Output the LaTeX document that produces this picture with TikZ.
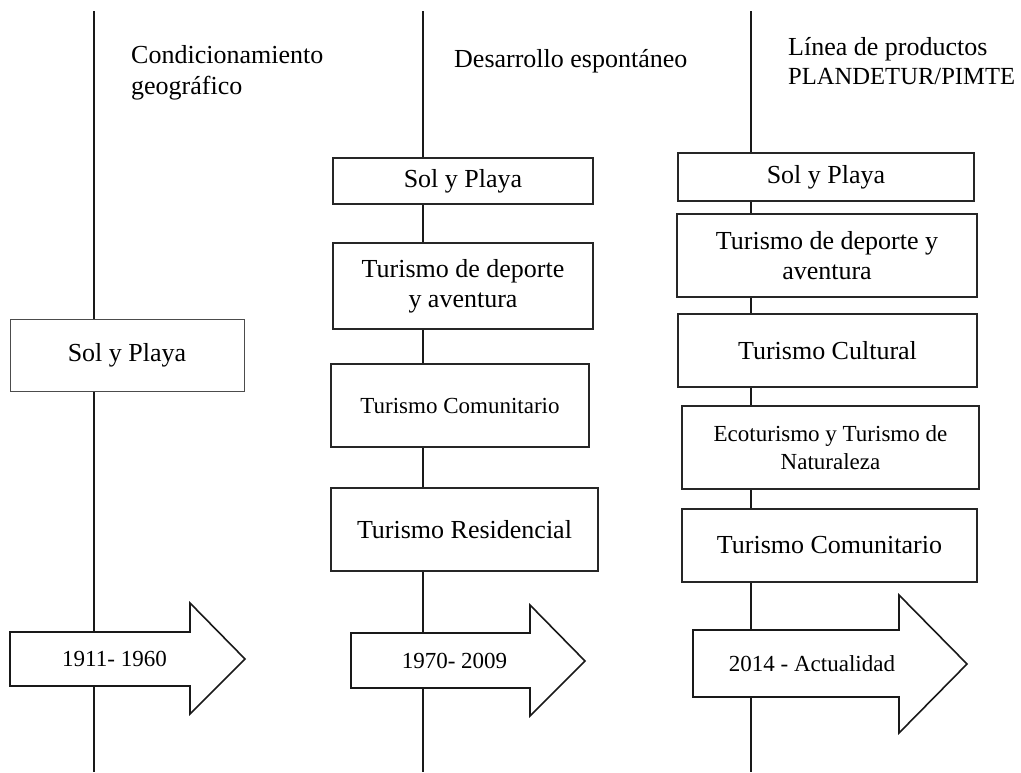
\documentclass[tikz,border=0pt]{standalone}
\usepackage{fontspec}
\setmainfont{Liberation Serif}
\begin{document}
\begin{tikzpicture}[x=1pt,y=-1pt,
  box/.style={draw=black!85,fill=white,line width=1.4pt,inner sep=0pt,align=center,font=\fontsize{26}{30}\selectfont},
  sbox/.style={box,font=\fontsize{23}{28}\selectfont},
  axis/.style={draw=black!90,line width=2pt},
  tarrow/.style={draw=black!90,fill=white,line width=1.6pt,line join=miter},
  title/.style={anchor=base west,inner sep=0pt,align=left,font=\fontsize{26}{30}\selectfont},
  lab/.style={inner sep=0pt,font=\fontsize{23}{28}\selectfont}]
\useasboundingbox (0,0) rectangle (1021,772);
% axis end points
\coordinate (t1) at (94,11);  \coordinate (b1) at (94,772);
\coordinate (t2) at (423,11); \coordinate (b2) at (423,772);
\coordinate (t3) at (751,11); \coordinate (b3) at (751,772);
\draw[axis] (t1) -- (b1);
\draw[axis] (t2) -- (b2);
\draw[axis] (t3) -- (b3);
% titles
\node[title] (h1a) at (131,63) {Condicionamiento};
\node[title] (h1b) at (131,94) {geográfico};
\node[title] (h2) at (454,67) {Desarrollo espontáneo};
\node[title] (h3a) at (788,55) {Línea de productos};
\node[title,font=\fontsize{24.6}{30}\selectfont] (h3b) at (788,84) {PLANDETUR/PIMTE};
% column 1
\node[box,draw=black!70,line width=1pt,minimum width=234pt,minimum height=72pt] (c1a) at (127,355) {Sol y Playa};
% column 2
\node[box,minimum width=260pt,minimum height=46pt] (c2a) at (463,181) {Sol y Playa};
\node[box,minimum width=260pt,minimum height=86pt] (c2b) at (463,286) {Turismo de deporte\\y aventura};
\node[sbox,minimum width=258pt,minimum height=83pt] (c2c) at (460,405.5) {Turismo Comunitario};
\node[box,minimum width=267pt,minimum height=83pt] (c2d) at (464.5,529.5) {Turismo Residencial};
% column 3
\node[box,minimum width=296pt,minimum height=48pt] (c3a) at (826,177) {Sol y Playa};
\node[box,minimum width=300pt,minimum height=83pt] (c3b) at (827,255.5) {Turismo de deporte y\\aventura};
\node[box,minimum width=299pt,minimum height=73pt] (c3c) at (827.5,350.5) {Turismo Cultural};
\node[sbox,minimum width=297pt,minimum height=83pt] (c3d) at (830.5,447.5) {Ecoturismo y Turismo de\\Naturaleza};
\node[box,minimum width=295pt,minimum height=73pt] (c3e) at (829.5,545.5) {Turismo Comunitario};
% period arrows
\coordinate (a1) at (10,632);
\draw[tarrow] (a1) -- ++(180,0) -- (190,603) -- (245,659) -- (190,714) -- (190,686) -- (10,686) -- cycle;
\node[lab] (p1) at (114.5,659) {1911- 1960};
\coordinate (a2) at (351,633);
\draw[tarrow] (a2) -- ++(179,0) -- (530,605) -- (585,661) -- (530,716) -- (530,688) -- (351,688) -- cycle;
\node[lab] (p2) at (454.5,661) {1970- 2009};
\coordinate (a3) at (693,630);
\draw[tarrow] (a3) -- ++(206,0) -- (899,595) -- (967,664) -- (899,733) -- (899,697) -- (693,697) -- cycle;
\node[lab] (p3) at (812,664) {2014 - Actualidad};
\end{tikzpicture}
\end{document}
